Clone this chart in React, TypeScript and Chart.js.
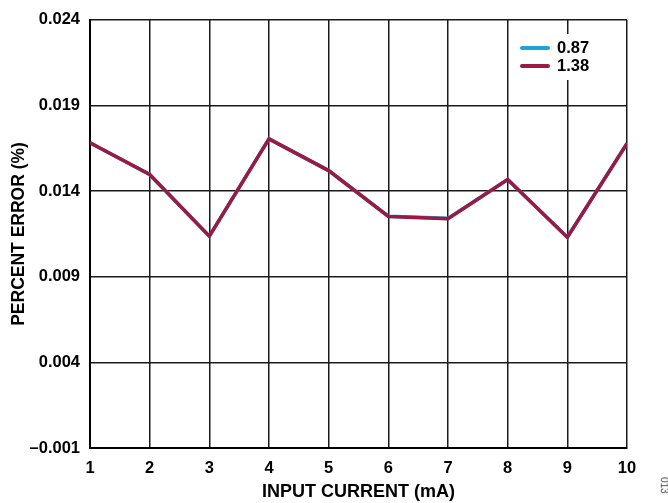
import React, { useEffect, useRef } from "react";
import { Chart, registerables } from "chart.js";

Chart.register(...registerables);

// Input current (mA)
const currents = [1, 2, 3, 4, 5, 6, 7, 8, 9, 10];
// Percent error for the two series
const series087 = [0.01683, 0.01497, 0.01137, 0.01705, 0.0152, 0.01254, 0.01241, 0.01468, 0.01131, 0.01679];
const series138 = [0.01683, 0.01497, 0.01137, 0.01705, 0.0152, 0.01252, 0.01239, 0.01468, 0.01131, 0.01679];
const seriesNames = ["0.87", "1.38"];
const seriesColors = ["#1ba3da", "#9a1a45"];

const yTicks = [-0.001, 0.004, 0.009, 0.014, 0.019, 0.024];
const yTickLabels = ["\u20130.001", "0.004", "0.009", "0.014", "0.019", "0.024"];
const xTicks = [1, 2, 3, 4, 5, 6, 7, 8, 9, 10];

const FONT = "'Liberation Sans', Arial, sans-serif";

const legendPlugin = {
  id: "insetLegend",
  afterDraw(chart: any) {
    const { ctx } = chart;
    ctx.save();
    ctx.fillStyle = "#ffffff";
    ctx.fillRect(513, 34, 88, 46);
    const rows = [48, 66];
    seriesNames.forEach((name, i) => {
      const y = rows[i];
      ctx.strokeStyle = seriesColors[i];
      ctx.lineWidth = 4;
      ctx.lineCap = "round";
      ctx.beginPath();
      ctx.moveTo(522, y);
      ctx.lineTo(548, y);
      ctx.stroke();
      ctx.fillStyle = "#000";
      ctx.font = `bold 16.5px ${FONT}`;
      ctx.textBaseline = "middle";
      ctx.textAlign = "left";
      ctx.fillText(name, 557, y);
    });
    ctx.restore();
  },
};

export default function App() {
  const canvasRef = useRef<HTMLCanvasElement | null>(null);

  useEffect(() => {
    if (!canvasRef.current) return;
    const chart = new Chart(canvasRef.current, {
      type: "line",
      data: {
        datasets: [
          {
            label: seriesNames[0],
            data: currents.map((x, i) => ({ x, y: series087[i] })),
            borderColor: seriesColors[0],
            borderWidth: 3.5,
            pointRadius: 0,
            tension: 0,
            order: 2,
          },
          {
            label: seriesNames[1],
            data: currents.map((x, i) => ({ x, y: series138[i] })),
            borderColor: seriesColors[1],
            borderWidth: 3.5,
            pointRadius: 0,
            tension: 0,
            order: 1,
          },
        ],
      },
      options: {
        responsive: false,
        animation: false,
        layout: { padding: { top: 19, right: 41, left: 0, bottom: 0 } },
        plugins: { legend: { display: false }, tooltip: { enabled: false } },
        scales: {
          x: {
            type: "linear",
            min: 1,
            max: 10,
            afterBuildTicks: (scale: any) => {
              scale.ticks = xTicks.map((v) => ({ value: v }));
            },
            afterFit: (scale: any) => {
              scale.height = 55;
            },
            ticks: {
              color: "#000",
              font: { family: FONT, size: 16.5, weight: "bold" },
              padding: 11,
              maxRotation: 0,
              autoSkip: false,
              callback: (v: any) => String(v),
            },
            grid: { color: "#1a1a1a", lineWidth: 1.5, drawTicks: false },
            border: { color: "#000", width: 2 },
            title: {
              display: true,
              text: "INPUT CURRENT (mA)",
              color: "#000",
              font: { family: FONT, size: 18, weight: "bold" },
              padding: { top: 0, bottom: 0 },
            },
          },
          y: {
            type: "linear",
            min: -0.001,
            max: 0.024,
            afterBuildTicks: (scale: any) => {
              scale.ticks = yTicks.map((v) => ({ value: v }));
            },
            afterFit: (scale: any) => {
              scale.width = 90;
            },
            ticks: {
              color: "#000",
              font: { family: FONT, size: 16.5, weight: "bold" },
              padding: 10,
              autoSkip: false,
              callback: (_v: any, i: number) => yTickLabels[i],
            },
            grid: { color: "#1a1a1a", lineWidth: 1.5, drawTicks: false },
            border: { color: "#000", width: 2 },
            title: {
              display: true,
              text: "PERCENT ERROR (%)",
              color: "#000",
              font: { family: FONT, size: 17.5, weight: "bold" },
              padding: { top: 9, bottom: 0 },
            },
          },
        },
      },
      plugins: [legendPlugin],
    });
    return () => chart.destroy();
  }, []);

  return (
    <div style={{ position: "fixed", left: 0, top: 0, width: 668, height: 503, background: "#fff", overflow: "hidden" }}>
      <canvas ref={canvasRef} width={668} height={503} style={{ display: "block" }} />
      <div
        style={{
          position: "absolute",
          left: 656,
          top: 480,
          fontFamily: FONT,
          fontSize: 10,
          color: "#444",
          transform: "rotate(90deg)",
          transformOrigin: "center",
          whiteSpace: "nowrap",
        }}
      >
        013
      </div>
    </div>
  );
}
